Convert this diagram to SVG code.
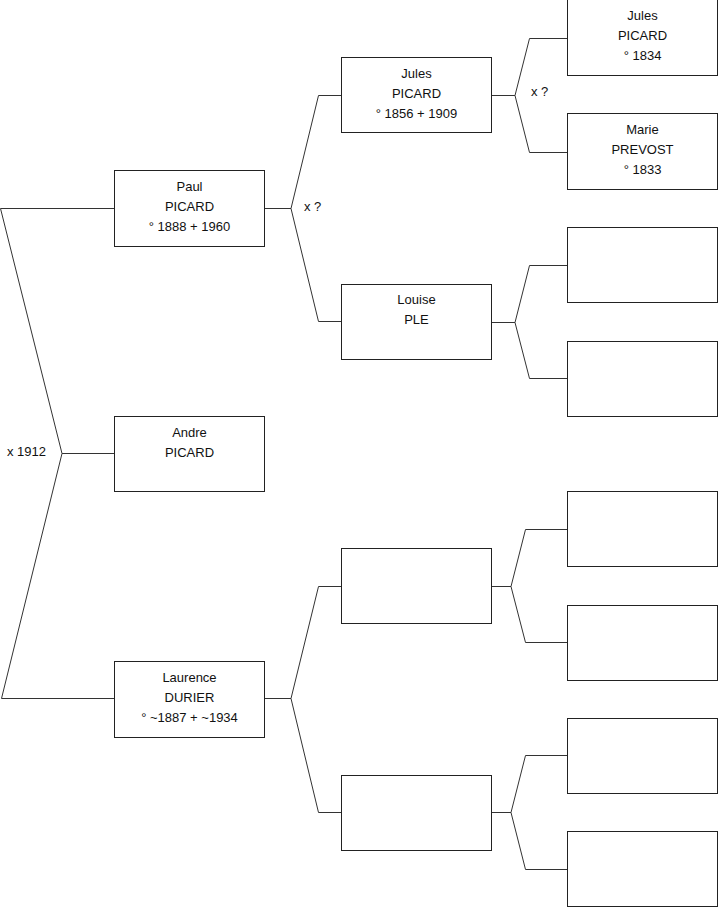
<svg xmlns="http://www.w3.org/2000/svg" width="719" height="908" viewBox="0 0 719 908">
<style>
.box{fill:#fff;stroke:#222;stroke-width:1}
.ln{fill:none;stroke:#333;stroke-width:1}
text{font-family:"Liberation Sans",Arial,sans-serif;font-size:13px;fill:#111}
.c{text-anchor:middle}
</style>
<rect width="719" height="908" fill="#fff"/>
<g id="connectors">
<path class="ln" d="M114,208.5 H0.5 L62,453.5 L1.5,698.5 H114 M62,453.5 H114"/>
<path class="ln" d="M265,208.5 H291 L318.5,95.5 H341 M291,208.5 L318.5,321.5 H341"/>
<path class="ln" d="M265,698.5 H291 L318.5,586.5 H341 M291,698.5 L318.5,812.5 H341"/>
<path class="ln" d="M492,95.5 H515 L529.5,38.5 H567 M515,95.5 L529.5,152.5 H567"/>
<path class="ln" d="M492,322.5 H515 L529.5,265.5 H567 M515,322.5 L529.5,378.5 H567"/>
<path class="ln" d="M492,586.5 H511 L525.5,529.5 H567 M511,586.5 L525.5,642.5 H567"/>
<path class="ln" d="M492,812.5 H511 L525.5,755.5 H567 M511,812.5 L525.5,869.5 H567"/>
<text x="7" y="456">x 1912</text>
<text x="304" y="211">x ?</text>
<text x="531" y="96">x ?</text>
</g>
<g id="paul"><rect class="box" x="114.5" y="170.5" width="150" height="76"/>
<text class="c" x="189.5" y="191">Paul</text><text class="c" x="189.5" y="211">PICARD</text><text class="c" x="189.5" y="231">° 1888 + 1960</text></g>
<g id="andre"><rect class="box" x="114.5" y="416.5" width="150" height="75"/>
<text class="c" x="189.5" y="437">Andre</text><text class="c" x="189.5" y="457">PICARD</text></g>
<g id="laurence"><rect class="box" x="114.5" y="661.5" width="150" height="76"/>
<text class="c" x="189.5" y="682">Laurence</text><text class="c" x="189.5" y="702">DURIER</text><text class="c" x="189.5" y="722">° ~1887 + ~1934</text></g>
<g id="jules1856"><rect class="box" x="341.5" y="57.5" width="150" height="75"/>
<text class="c" x="416.5" y="78">Jules</text><text class="c" x="416.5" y="98">PICARD</text><text class="c" x="416.5" y="118">° 1856 + 1909</text></g>
<g id="louise"><rect class="box" x="341.5" y="284.5" width="150" height="75"/>
<text class="c" x="416.5" y="304">Louise</text><text class="c" x="416.5" y="324">PLE</text></g>
<g id="m1"><rect class="box" x="341.5" y="548.5" width="150" height="75"/></g>
<g id="m2"><rect class="box" x="341.5" y="775.5" width="150" height="75"/></g>
<g id="jules1834"><rect class="box" x="567.5" y="-0.5" width="150" height="76"/>
<text class="c" x="642.5" y="20">Jules</text><text class="c" x="642.5" y="40">PICARD</text><text class="c" x="642.5" y="60">° 1834</text></g>
<g id="marie"><rect class="box" x="567.5" y="113.5" width="150" height="76"/>
<text class="c" x="642.5" y="134">Marie</text><text class="c" x="642.5" y="154">PREVOST</text><text class="c" x="642.5" y="174">° 1833</text></g>
<g id="r3"><rect class="box" x="567.5" y="227.5" width="150" height="75"/></g>
<g id="r4"><rect class="box" x="567.5" y="341.5" width="150" height="75"/></g>
<g id="r5"><rect class="box" x="567.5" y="491.5" width="150" height="75"/></g>
<g id="r6"><rect class="box" x="567.5" y="605.5" width="150" height="75"/></g>
<g id="r7"><rect class="box" x="567.5" y="718.5" width="150" height="75"/></g>
<g id="r8"><rect class="box" x="567.5" y="831.5" width="150" height="75"/></g>
</svg>
